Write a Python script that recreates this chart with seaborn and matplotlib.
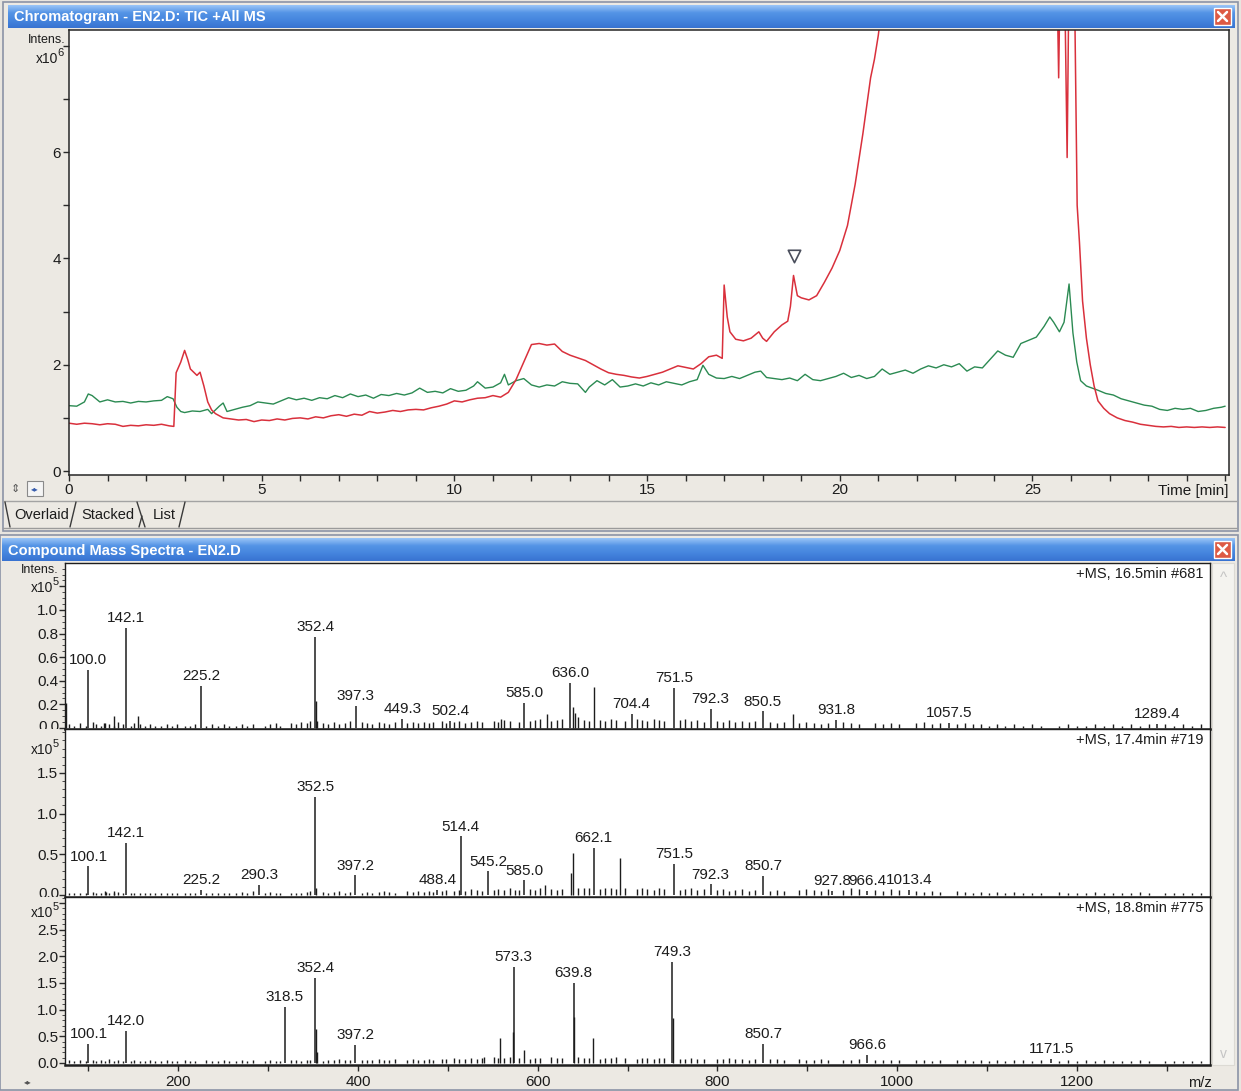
import numpy as np
import matplotlib
matplotlib.use("Agg")
import matplotlib.pyplot as plt
import seaborn as sns
from matplotlib import font_manager
from matplotlib.patches import Rectangle
from matplotlib.lines import Line2D
from matplotlib.ticker import FixedLocator, FixedFormatter
from matplotlib.transforms import Bbox, TransformedBbox

# ---------------------------------------------------------------- data ----
# TIC traces (time in min, intensity x10^6)
red_t = [0.0, 0.2, 0.4, 0.6, 0.8, 1.0, 1.2, 1.4, 1.6, 1.8,
         2.0, 2.2, 2.4, 2.6, 2.72, 2.78, 2.9, 3.0, 3.08, 3.15,
         3.25, 3.32, 3.4, 3.5, 3.6, 3.7, 3.8, 3.9, 4.0, 4.2,
         4.4, 4.6, 4.8, 5.0, 5.2, 5.4, 5.6, 5.8, 6.0, 6.2,
         6.4, 6.6, 6.8, 7.0, 7.2, 7.4, 7.6, 7.8, 8.0, 8.2,
         8.4, 8.6, 8.8, 9.0, 9.2, 9.4, 9.6, 9.8, 10.0, 10.2,
         10.4, 10.6, 10.8, 11.0, 11.2, 11.4, 11.6, 11.8, 12.0, 12.2,
         12.4, 12.6, 12.8, 13.0, 13.2, 13.4, 13.6, 13.8, 14.0, 14.2,
         14.4, 14.6, 14.8, 15.0, 15.2, 15.4, 15.6, 15.8, 16.0, 16.2,
         16.4, 16.6, 16.8, 16.95, 17.0, 17.08, 17.15, 17.3, 17.5, 17.7,
         17.9, 18.0, 18.1, 18.3, 18.5, 18.65, 18.72, 18.8, 18.9, 19.0,
         19.2, 19.4, 19.6, 19.8, 20.0, 20.2, 20.4, 20.6, 20.8, 20.9,
         21.0, 21.1, 21.5, 22.0, 23.0, 24.0, 25.0, 25.6, 25.68, 25.74,
         25.84, 25.9, 25.95, 26.02, 26.1, 26.16, 26.22, 26.3, 26.4, 26.5,
         26.6, 26.7, 26.85, 27.0, 27.2, 27.4, 27.6, 27.8, 28.0, 28.2,
         28.4, 28.6, 28.8, 29.0, 29.2, 29.4, 29.6, 29.8, 30.0]
red_v = [0.90, 0.88, 0.90, 0.89, 0.87, 0.89, 0.88, 0.84, 0.86, 0.85,
         0.87, 0.86, 0.88, 0.85, 0.84, 1.85, 2.05, 2.27, 2.10, 1.92,
         1.85, 1.80, 1.86, 1.60, 1.30, 1.15, 1.08, 1.04, 1.00, 0.98,
         0.96, 0.97, 0.93, 0.96, 0.95, 0.98, 0.96, 0.99, 1.00, 0.98,
         1.02, 1.00, 1.04, 1.06, 1.03, 1.07, 1.05, 1.12, 1.09, 1.11,
         1.14, 1.12, 1.15, 1.16, 1.15, 1.19, 1.22, 1.26, 1.32, 1.30,
         1.34, 1.37, 1.38, 1.42, 1.39, 1.48, 1.72, 2.05, 2.38, 2.40,
         2.37, 2.39, 2.25, 2.18, 2.13, 2.08, 2.00, 1.92, 1.85, 1.82,
         1.80, 1.77, 1.75, 1.78, 1.82, 1.86, 1.92, 1.98, 1.95, 1.92,
         2.02, 2.15, 2.18, 2.12, 3.50, 2.90, 2.62, 2.48, 2.45, 2.50,
         2.62, 2.50, 2.44, 2.62, 2.75, 2.82, 3.10, 3.68, 3.30, 3.26,
         3.22, 3.30, 3.55, 3.82, 4.15, 4.62, 5.40, 6.35, 7.40, 7.75,
         8.20, 8.80, 10.5, 12.0, 15.0, 18.0, 16.0, 11.0, 7.40, 10.5,
         9.00, 5.90, 9.50, 14.0, 8.60, 5.00, 4.30, 3.20, 2.50, 2.00,
         1.60, 1.32, 1.18, 1.08, 1.00, 0.95, 0.92, 0.88, 0.86, 0.84,
         0.83, 0.84, 0.82, 0.83, 0.82, 0.83, 0.82, 0.83, 0.82]

green_t = [0.0, 0.2, 0.4, 0.5, 0.6, 0.8, 1.0, 1.2, 1.4, 1.6,
           1.8, 2.0, 2.2, 2.4, 2.55, 2.7, 2.8, 2.9, 3.0, 3.2,
           3.4, 3.6, 3.7, 3.9, 4.0, 4.1, 4.3, 4.5, 4.7, 4.9,
           5.1, 5.3, 5.5, 5.7, 5.9, 6.1, 6.3, 6.5, 6.7, 6.9,
           7.1, 7.3, 7.5, 7.7, 7.9, 8.1, 8.3, 8.5, 8.7, 8.9,
           9.1, 9.3, 9.5, 9.7, 9.9, 10.1, 10.3, 10.5, 10.6, 10.8,
           11.0, 11.2, 11.3, 11.4, 11.6, 11.8, 12.0, 12.2, 12.4, 12.6,
           12.8, 13.0, 13.2, 13.4, 13.5, 13.7, 13.9, 14.1, 14.3, 14.5,
           14.7, 14.9, 15.1, 15.3, 15.5, 15.7, 15.9, 16.1, 16.3, 16.45,
           16.6, 16.8, 17.0, 17.2, 17.4, 17.6, 17.8, 17.95, 18.1, 18.3,
           18.5, 18.7, 18.9, 19.1, 19.3, 19.5, 19.7, 19.9, 20.1, 20.3,
           20.5, 20.7, 20.9, 21.1, 21.3, 21.5, 21.7, 21.9, 22.1, 22.3,
           22.5, 22.7, 22.9, 23.1, 23.3, 23.5, 23.7, 23.9, 24.1, 24.3,
           24.5, 24.7, 24.9, 25.1, 25.3, 25.45, 25.55, 25.7, 25.82, 25.95,
           26.05, 26.15, 26.25, 26.4, 26.55, 26.7, 26.9, 27.1, 27.3, 27.5,
           27.7, 27.9, 28.1, 28.3, 28.5, 28.7, 28.9, 29.1, 29.3, 29.5,
           29.7, 29.9, 30.0]
green_v = [1.23, 1.22, 1.30, 1.45, 1.42, 1.30, 1.34, 1.30, 1.31, 1.28,
           1.31, 1.30, 1.32, 1.33, 1.40, 1.36, 1.20, 1.12, 1.10, 1.13,
           1.12, 1.16, 1.08, 1.22, 1.28, 1.12, 1.16, 1.20, 1.23, 1.30,
           1.28, 1.26, 1.32, 1.38, 1.34, 1.37, 1.33, 1.38, 1.36, 1.42,
           1.38, 1.45, 1.40, 1.43, 1.37, 1.44, 1.42, 1.46, 1.43, 1.47,
           1.56, 1.48, 1.50, 1.47, 1.55, 1.50, 1.52, 1.60, 1.68, 1.56,
           1.58, 1.66, 1.82, 1.62, 1.70, 1.74, 1.62, 1.58, 1.62, 1.60,
           1.68, 1.65, 1.64, 1.48, 1.58, 1.70, 1.62, 1.72, 1.58, 1.60,
           1.64, 1.60, 1.66, 1.62, 1.68, 1.65, 1.62, 1.68, 1.72, 1.99,
           1.82, 1.75, 1.74, 1.78, 1.74, 1.80, 1.86, 1.88, 1.76, 1.74,
           1.72, 1.75, 1.70, 1.82, 1.72, 1.70, 1.74, 1.78, 1.84, 1.76,
           1.80, 1.74, 1.78, 1.92, 1.82, 1.86, 1.90, 1.84, 1.92, 1.98,
           1.94, 2.00, 1.96, 2.02, 1.88, 1.96, 1.94, 2.10, 2.26, 2.18,
           2.14, 2.40, 2.46, 2.52, 2.72, 2.90, 2.80, 2.62, 2.80, 3.52,
           2.60, 2.05, 1.70, 1.60, 1.56, 1.52, 1.46, 1.43, 1.36, 1.32,
           1.28, 1.24, 1.22, 1.16, 1.14, 1.18, 1.16, 1.18, 1.12, 1.14,
           1.18, 1.20, 1.22]

# compound marker on the TIC
marker_t = 18.8
marker_v = 4.05

# mass spectra (m/z, intensity x10^5)
ms1_title = "+MS, 16.5min #681"
ms1_mz = [100.0, 142.1, 225.2, 352.4, 397.3, 449.3, 502.4, 585.0,
          636.0, 704.4, 751.5, 792.3, 850.5, 931.8, 1057.5, 1289.4]
ms1_int = [0.49, 0.85, 0.36, 0.77, 0.19, 0.08, 0.06, 0.21,
           0.38, 0.12, 0.34, 0.16, 0.14, 0.07, 0.04, 0.035]
ms1_extra_mz = [75.5, 117.0, 128.0, 155.0, 353.4, 354.5, 559.0, 610.0,
                639.5, 641.0, 662.9, 884.0]
ms1_extra_int = [0.21, 0.04, 0.10, 0.10, 0.23, 0.06, 0.075, 0.12,
                 0.18, 0.13, 0.35, 0.12]

ms2_title = "+MS, 17.4min #719"
ms2_mz = [100.1, 142.1, 225.2, 290.3, 352.5, 397.2, 488.4, 514.4, 545.2,
          585.0, 662.1, 751.5, 792.3, 850.7, 927.8, 966.4, 1013.4]
ms2_int = [0.35, 0.64, 0.06, 0.12, 1.21, 0.24, 0.06, 0.72, 0.29,
           0.18, 0.58, 0.38, 0.13, 0.23, 0.05, 0.05, 0.06]
ms2_extra_mz = [120.0, 128.5, 353.5, 575.0, 608.0, 637.5, 639.5, 692.0]
ms2_extra_int = [0.04, 0.05, 0.08, 0.06, 0.12, 0.27, 0.52, 0.45]

ms3_title = "+MS, 18.8min #775"
ms3_mz = [100.1, 142.0, 318.5, 352.4, 397.2, 573.3, 639.8, 749.3,
          850.7, 966.6, 1171.5]
ms3_int = [0.36, 0.60, 1.05, 1.59, 0.34, 1.80, 1.50, 1.90,
           0.36, 0.15, 0.08]
ms3_extra_mz = [353.4, 354.5, 540.0, 558.0, 572.3, 585.0, 640.8, 661.7, 750.3]
ms3_extra_int = [0.63, 0.20, 0.12, 0.46, 0.58, 0.24, 0.87, 0.46, 0.84]

# low-level ion signals along each spectrum
noise_mz = [78, 84, 91, 97, 105, 109, 114, 118, 123, 129,
            133, 138, 147, 151, 157, 163, 169, 174, 181, 187,
            193, 199, 207, 213, 219, 231, 238, 244, 251, 257,
            264, 271, 277, 283, 296, 302, 309, 313, 325, 331,
            337, 343, 347, 361, 367, 373, 379, 385, 391, 404,
            410, 416, 423, 429, 435, 441, 455, 461, 467, 473,
            479, 484, 493, 498, 507, 512, 519, 526, 532, 538,
            551, 556, 563, 569, 579, 591, 597, 603, 615, 621,
            627, 645, 651, 657, 669, 675, 681, 687, 697, 710,
            716, 722, 729, 735, 741, 758, 764, 770, 777, 785,
            799, 806, 813, 820, 827, 835, 842, 858, 866, 874,
            891, 899, 907, 915, 923, 940, 948, 957, 975, 984,
            993, 1002, 1021, 1030, 1039, 1048, 1066, 1075, 1084, 1093,
            1102, 1111, 1120, 1130, 1140, 1150, 1160, 1180, 1190, 1200,
            1210, 1220, 1230, 1240, 1250, 1260, 1270, 1280, 1298, 1308,
            1318, 1328, 1338]
noise1 = [.03, .02, .04, .02, .05, .03, .02, .04, .03, .02,
          .05, .03, .02, .04, .03, .02, .03, .02, .02, .03,
          .02, .03, .02, .02, .03, .02, .03, .02, .03, .02,
          .02, .03, .02, .03, .02, .03, .04, .02, .04, .03,
          .05, .04, .06, .04, .03, .05, .03, .04, .06, .05,
          .04, .03, .05, .04, .03, .05, .04, .05, .04, .05,
          .04, .05, .06, .04, .05, .06, .04, .05, .06, .05,
          .06, .05, .07, .06, .05, .06, .07, .08, .06, .07,
          .08, .09, .07, .06, .07, .06, .08, .07, .06, .08,
          .07, .06, .08, .07, .06, .07, .08, .06, .07, .05,
          .06, .05, .07, .05, .06, .05, .06, .05, .04, .05,
          .04, .05, .04, .03, .04, .05, .04, .03, .04, .03,
          .04, .03, .04, .05, .03, .04, .03, .04, .03, .03,
          .02, .03, .02, .03, .02, .03, .02, .02, .03, .02,
          .02, .03, .02, .03, .02, .03, .02, .03, .03, .02,
          .03, .02, .03]
noise2 = [.03, .02, .03, .02, .04, .02, .03, .05, .03, .02,
          .04, .02, .03, .03, .02, .03, .02, .02, .03, .02,
          .02, .02, .03, .02, .03, .02, .03, .02, .02, .03,
          .02, .04, .03, .05, .03, .04, .03, .02, .03, .02,
          .03, .04, .05, .04, .03, .04, .05, .03, .04, .03,
          .04, .03, .04, .05, .04, .03, .05, .04, .05, .04,
          .05, .04, .05, .06, .05, .06, .05, .07, .06, .05,
          .06, .07, .06, .08, .06, .07, .06, .08, .07, .06,
          .07, .08, .09, .08, .07, .08, .09, .07, .08, .07,
          .08, .07, .06, .08, .07, .06, .07, .08, .06, .07,
          .06, .07, .05, .06, .07, .05, .06, .05, .06, .05,
          .06, .07, .06, .05, .07, .06, .08, .07, .06, .05,
          .07, .06, .05, .04, .05, .04, .05, .04, .03, .04,
          .03, .04, .03, .04, .03, .02, .03, .04, .03, .03,
          .02, .04, .03, .02, .03, .02, .04, .03, .02, .03,
          .02, .03, .02]
noise3 = [.05, .03, .06, .04, .05, .03, .06, .04, .07, .04,
          .05, .04, .03, .05, .04, .03, .05, .04, .03, .05,
          .04, .03, .05, .04, .03, .05, .04, .03, .05, .04,
          .04, .05, .03, .06, .04, .05, .03, .04, .06, .05,
          .04, .06, .05, .04, .05, .06, .07, .05, .06, .05,
          .06, .05, .07, .06, .05, .07, .06, .07, .05, .06,
          .07, .06, .08, .07, .09, .08, .07, .09, .08, .10,
          .11, .09, .10, .12, .09, .08, .10, .09, .11, .10,
          .09, .12, .10, .09, .08, .10, .09, .11, .09, .08,
          .10, .09, .08, .10, .09, .08, .07, .09, .08, .07,
          .08, .07, .09, .08, .07, .06, .07, .08, .07, .06,
          .07, .06, .05, .07, .06, .05, .06, .07, .06, .05,
          .06, .05, .06, .05, .04, .05, .06, .05, .04, .05,
          .04, .05, .04, .05, .06, .04, .05, .04, .05, .04,
          .05, .04, .05, .04, .03, .04, .05, .04, .03, .04,
          .04, .03, .04]

chrom_title = "Chromatogram - EN2.D: TIC +All MS"
spectra_title = "Compound Mass Spectra - EN2.D"

# ---------------------------------------------------------------- style ---
sns.set_theme(style="white")


def has_font(name):
    try:
        font_manager.findfont(font_manager.FontProperties(family=name),
                              fallback_to_default=False)
        return True
    except ValueError:
        return False


if has_font("Liberation Sans Narrow"):
    TXT, FS = "Liberation Sans Narrow", 12
else:
    TXT, FS = "Liberation Sans", 11
plt.rcParams["font.family"] = [TXT, "DejaVu Sans"]

W, H = 1241, 1091
BG = "#e8e5df"
PANEL = "#ece9e3"
INK = "#1c1c1c"
RED = "#d9303c"
GREEN = "#2b8a52"

fig = plt.figure(figsize=(W / 100, H / 100), dpi=100, facecolor=BG)
chrome = fig.add_axes([0, 0, 1, 1], zorder=0)
chrome.set_axis_off()


def px_rect(x0, y0, x1, y1):
    return [x0 / W, 1 - y1 / H, (x1 - x0) / W, (y1 - y0) / H]


# window bodies
for x0, y0, x1, y1 in [(3, 2, 1238, 531), (0, 535, 1238, 1090)]:
    chrome.add_patch(Rectangle((x0, y0), x1 - x0, y1 - y0, facecolor=PANEL,
                               edgecolor="#8b93a6", lw=1.2, zorder=1))


def title_bar(x0, y0, x1, y1, label):
    stops = np.array([[0.60, 0.77, 0.97], [0.33, 0.58, 0.90],
                      [0.27, 0.52, 0.87], [0.22, 0.45, 0.82]])
    pos = np.linspace(0, 1, len(stops))
    rows = np.linspace(0, 1, 40)
    grad = np.stack([np.interp(rows, pos, stops[:, k]) for k in range(3)], axis=1)
    chrome.imshow(grad[:, None, :], extent=(x0, x1, y1, y0), aspect="auto",
                  interpolation="bilinear", zorder=2)
    chrome.text(x0 + 6, (y0 + y1) / 2 + 1, label, color="white", fontsize=10.5,
                fontweight="bold", ha="left", va="center", zorder=3,
                family=["Liberation Sans", "DejaVu Sans"])
    bx0, by0, bs = x1 - 21, y0 + 3, (y1 - y0) - 6
    chrome.add_patch(Rectangle((bx0, by0), bs, bs, facecolor="#dd5a44",
                               edgecolor="white", lw=1.0, zorder=3))
    chrome.add_line(Line2D([bx0 + 4, bx0 + bs - 4], [by0 + 4, by0 + bs - 4],
                           color="white", lw=1.8, zorder=4))
    chrome.add_line(Line2D([bx0 + 4, bx0 + bs - 4], [by0 + bs - 4, by0 + 4],
                           color="white", lw=1.8, zorder=4))


title_bar(8, 5, 1235, 28, chrom_title)
title_bar(2, 538, 1235, 561, spectra_title)

# ------------------------------------------------------------ chromatogram
axc = fig.add_axes(px_rect(69, 30, 1229, 475), zorder=2)
axc.set_facecolor("white")
sns.lineplot(x=green_t, y=green_v, ax=axc, color=GREEN, lw=1.0,
             errorbar=None, legend=False)
sns.lineplot(x=red_t, y=red_v, ax=axc, color=RED, lw=1.1,
             errorbar=None, legend=False)
axc.scatter([marker_t], [marker_v], marker="v", s=80, facecolor="white",
            edgecolor="#4a4e5c", linewidth=1.2, zorder=5)
axc.set_xlim(0, 30.1)
axc.set_ylim(-0.075, 8.3)
axc.set_xlabel("")
axc.set_ylabel("")
axc.xaxis.set_major_locator(FixedLocator([0, 5, 10, 15, 20, 25]))
axc.xaxis.set_minor_locator(FixedLocator(list(range(0, 31))))
axc.yaxis.set_major_locator(FixedLocator([0, 2, 4, 6, 8]))
axc.yaxis.set_major_formatter(FixedFormatter(["0", "2", "4", "6", ""]))
axc.yaxis.set_minor_locator(FixedLocator([1, 3, 5, 7]))
axc.tick_params(which="both", direction="out", length=4, width=1.0,
                color="#2a2a2a", labelsize=FS, labelcolor=INK,
                bottom=True, left=True, pad=2)
for s in axc.spines.values():
    s.set_color("#262626")
    s.set_linewidth(1.1)

chrome.text(47, 40, "Intens.", fontsize=FS - 2, ha="center", va="center", color=INK)
chrome.text(58, 59, "x10", fontsize=FS - 1, ha="right", va="center", color=INK)
chrome.text(57.5, 53, "6", fontsize=FS - 3, ha="left", va="center", color=INK)
chrome.text(1228, 491, "Time [min]", fontsize=FS, ha="right", va="center", color=INK)

# small navigation glyphs under the y axis
chrome.text(15, 489, "\u21d5", fontsize=8, ha="center", va="center", color="#555555",
            family="DejaVu Sans")
chrome.add_patch(Rectangle((27, 481), 16, 15, facecolor="#f5f5f5",
                           edgecolor="#8a8a8a", lw=0.8, zorder=2))
chrome.text(35, 488.5, "\u25c2\u25b8", fontsize=5.5, ha="center", va="center",
            color="#3a5fae", family="DejaVu Sans", zorder=3)

# view tabs
chrome.add_line(Line2D([3, 1237], [501, 501], color="#a3a3a3", lw=1.0, zorder=2))
chrome.add_line(Line2D([3, 1237], [528, 528], color="#9b9b9b", lw=1.0, zorder=2))
for xs, ys in [([5, 10], [502, 527]), ([70, 76], [527, 502]),
               ([137, 145], [502, 527]), ([139, 142], [527, 516]),
               ([179, 185], [527, 502])]:
    chrome.add_line(Line2D(xs, ys, color="#3a3a3a", lw=1.0, zorder=3))
for x, lab in [(14, "Overlaid"), (81, "Stacked"), (153, "List")]:
    chrome.text(x, 515, lab, fontsize=FS - 0.5, ha="left", va="center", color=INK)

# ------------------------------------------------------------ spectra ------
spectra = [
    dict(box=(65, 563, 1210, 729), ylim=(-0.0085, 1.398), title=ms1_title,
         mz=ms1_mz, inten=ms1_int, xmz=ms1_extra_mz, xint=ms1_extra_int,
         noise=noise1, ticks=[0.0, 0.2, 0.4, 0.6, 0.8, 1.0, 1.2],
         exp_y=1.2, minor=0.05),
    dict(box=(65, 729, 1210, 897), ylim=(-0.025, 2.04), title=ms2_title,
         mz=ms2_mz, inten=ms2_int, xmz=ms2_extra_mz, xint=ms2_extra_int,
         noise=noise2, ticks=[0.0, 0.5, 1.0, 1.5],
         exp_y=1.80, minor=0.1),
    dict(box=(65, 897, 1210, 1065), ylim=(-0.0375, 3.11), title=ms3_title,
         mz=ms3_mz, inten=ms3_int, xmz=ms3_extra_mz, xint=ms3_extra_int,
         noise=noise3, ticks=[0.0, 0.5, 1.0, 1.5, 2.0, 2.5, 3.0],
         exp_y=2.84, minor=0.1),
]

for i, sp in enumerate(spectra):
    x0, y0, x1, y1 = sp["box"]
    ax = fig.add_axes(px_rect(*sp["box"]), zorder=2)
    ax.set_facecolor("white")
    ax.vlines(noise_mz, 0, sp["noise"], color=INK, lw=1.0)
    ax.vlines(sp["xmz"], 0, sp["xint"], color=INK, lw=1.0)
    ax.vlines(sp["mz"], 0, sp["inten"], color=INK, lw=1.1)
    for m, h in zip(sp["mz"], sp["inten"]):
        ax.annotate(f"{m:.1f}", xy=(m, h), xytext=(0, 2), textcoords="offset points",
                    ha="center", va="bottom", fontsize=FS, color=INK)
    ax.text(0.994, 0.975, sp["title"], transform=ax.transAxes, ha="right", va="top",
            fontsize=FS - 0.5, color=INK)
    ax.set_xlim(74, 1348)
    ax.set_ylim(*sp["ylim"])
    ticks = sp["ticks"]
    labels = [f"{t:.1f}" for t in ticks]
    if ticks[-1] == sp["exp_y"] or ticks[-1] > sp["ylim"][1] - 0.15:
        labels[-1] = ""
    if i < 2:
        labels[0] = ""
    ax.yaxis.set_major_locator(FixedLocator(ticks))
    ax.yaxis.set_major_formatter(FixedFormatter(labels))
    minors = []
    lo = 0.0
    while lo < sp["ylim"][1]:
        minors.append(round(lo, 3))
        lo += sp["minor"]
    ax.yaxis.set_minor_locator(FixedLocator(minors))
    ax.tick_params(axis="y", which="major", direction="out", length=4, width=1.0,
                   color="#2a2a2a", labelsize=FS, labelcolor=INK, left=True, pad=1)
    ax.tick_params(axis="y", which="minor", direction="out", length=2, width=0.7,
                   color="#4a4a4a", left=True)
    if i < 2:
        ax.tick_params(axis="x", which="both", bottom=False, labelbottom=False)
        # zero label sits on the panel border and is cut by the panel below
        zero = ax.annotate("0.0", xy=(0, 0), xycoords=("axes fraction", "data"),
                           xytext=(-4, 1), textcoords="offset points", ha="right",
                           va="center", fontsize=FS, color=INK, annotation_clip=False)
        zero.set_clip_box(TransformedBbox(Bbox.from_extents(0, 1 - y1 / H, x0 / W, 1),
                                          fig.transFigure))
        zero.set_clip_on(True)
    else:
        ax.xaxis.set_major_locator(FixedLocator([200, 400, 600, 800, 1000, 1200]))
        ax.xaxis.set_minor_locator(FixedLocator([100, 300, 500, 700, 900, 1100, 1300]))
        ax.tick_params(axis="x", which="both", direction="out", length=4, width=1.0,
                       color="#2a2a2a", labelsize=FS, labelcolor=INK, bottom=True, pad=3)
    for s in ax.spines.values():
        s.set_color("#1e1e1e")
        s.set_linewidth(1.0)
    ax.spines["bottom"].set_linewidth(1.8)
    # exponent label at the top of the intensity axis
    ax.annotate("x10", xy=(0, sp["exp_y"]), xycoords=("axes fraction", "data"),
                xytext=(-8.5, -1), textcoords="offset points", ha="right", va="center",
                fontsize=FS - 1, color=INK)
    ax.annotate("5", xy=(0, sp["exp_y"]), xycoords=("axes fraction", "data"),
                xytext=(-8.8, 3.5), textcoords="offset points", ha="left", va="center",
                fontsize=FS - 3, color=INK)

chrome.text(40, 570, "Intens.", fontsize=FS - 2, ha="center", va="center", color=INK)
chrome.text(1200, 1083, "m/z", fontsize=FS - 0.5, ha="center", va="center", color=INK)
chrome.text(28, 1082, "\u25c2\u25b8", fontsize=5.5, ha="center", va="center",
            color="#555555", family="DejaVu Sans")

# scrollbar beside the spectra
chrome.add_patch(Rectangle((1212, 563), 22, 502, facecolor="#f4f3ef",
                           edgecolor="#dcdad4", lw=0.8, zorder=2))
chrome.text(1223, 578, "^", fontsize=11, ha="center", va="center", color="#c4c4c4")
chrome.text(1223, 1054, "v", fontsize=10, ha="center", va="center", color="#c4c4c4")

chrome.set_xlim(0, W)
chrome.set_ylim(H, 0)

fig.savefig("out.png", dpi=100, facecolor=BG)
